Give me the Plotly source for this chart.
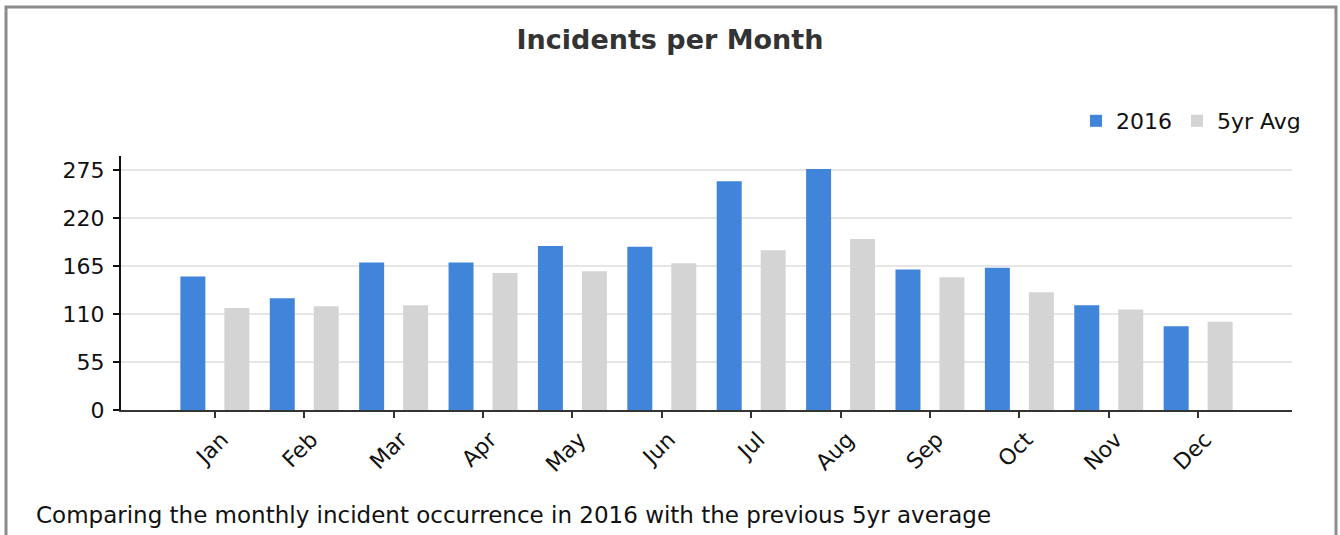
import plotly.graph_objects as go

months = ["Jan", "Feb", "Mar", "Apr", "May", "Jun", "Jul", "Aug", "Sep", "Oct", "Nov", "Dec"]
incidents_2016 = [153, 128, 169, 169, 188, 187, 262, 276, 161, 163, 120, 96]
avg_5yr = [117, 119, 120, 157, 159, 168, 183, 196, 152, 135, 115, 101]
y_ticks = [0, 55, 110, 165, 220, 275]

FONT = "DejaVu Sans"

fig = go.Figure()
fig.add_trace(go.Bar(name="2016", x=months, y=incidents_2016, marker_color="#4085da", marker_line_width=0))
fig.add_trace(go.Bar(name="5yr Avg", x=months, y=avg_5yr, marker_color="#d4d4d4", marker_line_width=0))

L, R, T, B = 121, 48, 156, 125
W, H = 1340, 535
pw, ph = W - L - R, H - T - B

def px_x(p):
    return (p - L) / pw

def px_y(p):
    return (H - B - p) / ph

fig.update_layout(
    width=W, height=H,
    margin=dict(l=L, r=R, t=T, b=B, autoexpand=False),
    paper_bgcolor="white", plot_bgcolor="white",
    font=dict(family=FONT, size=20, color="#222"),
    barmode="group", bargap=0.016, bargroupgap=0.432,
    title=dict(text="<b>Incidents per Month</b>", x=0.5, xanchor="center", xref="container",
               y=1 - 40 / H, yanchor="middle", yref="container",
               font=dict(family=FONT, size=27, color="#333")),
    legend=dict(orientation="h", x=px_x(1306), xanchor="right", y=px_y(121), yanchor="middle",
                font=dict(family=FONT, size=22, color="#111"), bgcolor="rgba(0,0,0,0)",
                itemsizing="constant"),
    xaxis=dict(range=[-1.05, 12.05], tickangle=-45, showline=True, linecolor="#333", linewidth=2,
               ticks="outside", ticklen=6, tickcolor="#333", tickwidth=2, ticklabelshift=7,
               tickfont=dict(family=FONT, size=22, color="#111"), showgrid=False, zeroline=False),
    yaxis=dict(range=[0, 291], tickvals=y_ticks, showline=True, linecolor="#111", linewidth=2,
               ticks="outside", ticklen=6, tickcolor="#111", tickwidth=2, ticklabelstandoff=4,
               tickfont=dict(family=FONT, size=22, color="#111"),
               showgrid=True, gridcolor="#e6e6e6", gridwidth=2, zeroline=False),
    shapes=[dict(type="rect", xref="paper", yref="paper",
                 x0=px_x(6), x1=px_x(1336), y0=px_y(545), y1=px_y(7),
                 line=dict(color="#8c8c8c", width=3), fillcolor="rgba(0,0,0,0)", layer="below")],
    annotations=[dict(text="Comparing the monthly incident occurrence in 2016 with the previous 5yr average",
                      xref="paper", yref="paper", x=px_x(34), y=px_y(515), xanchor="left", yanchor="middle",
                      showarrow=False, font=dict(family=FONT, size=23, color="#111"))],
)

fig.write_html("out.html", config={"displayModeBar": False},
               post_script="document.body.style.margin='0';")
